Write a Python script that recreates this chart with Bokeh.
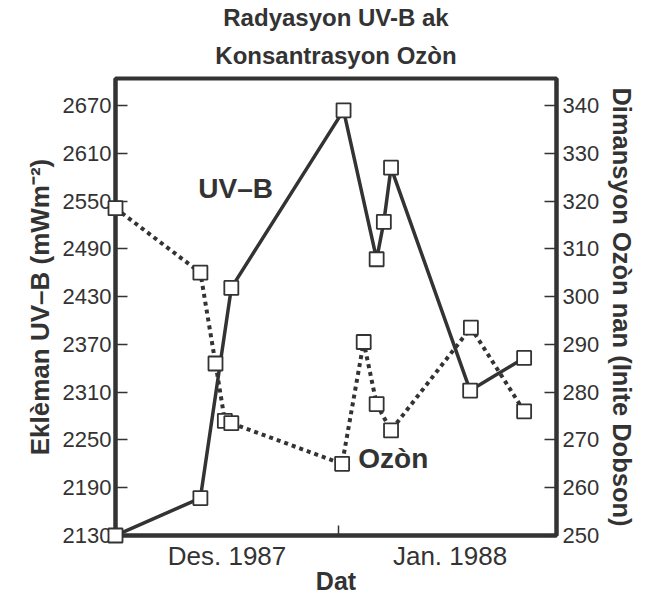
from bokeh.plotting import figure
from bokeh.models import LinearAxis, Range1d, FixedTicker, Label, Title, ColumnDataSource
from bokeh.embed import file_html
from bokeh.resources import INLINE

# ---- data (days since 1 Dec 1987) ----
uvb_day = [0, 11.8, 16.1, 31.7, 36.3, 37.3, 38.3, 49.3, 56.8]
uvb_val = [2130, 2177, 2441, 2664, 2477, 2524, 2592, 2312, 2353]

oz_day = [0, 11.8, 13.9, 15.2, 16.1, 31.5, 34.5, 36.3, 38.3, 49.4, 56.8]
oz_val = [318.5, 305, 286, 274, 273.5, 265, 290.5, 277.5, 272, 293.5, 276]

uvb_ticks = [2130, 2190, 2250, 2310, 2370, 2430, 2490, 2550, 2610, 2670]
oz_ticks = [250, 260, 270, 280, 290, 300, 310, 320, 330, 340]
month_centers = [15.5, 46.5]
month_labels = ["Des. 1987", "Jan. 1988"]
month_boundary = [31]

INK = "#333333"
FONT = "Liberation Sans"

p = figure(width=651, height=598, output_backend="svg", toolbar_location=None,
           x_range=Range1d(0, 61.3), y_range=Range1d(2130, 2704),
           x_axis_type=None, y_axis_type=None,
           min_border_left=115, min_border_right=95, min_border_top=78, min_border_bottom=63)
p.extra_y_ranges = {"oz": Range1d(250, 345.65)}
p.outline_line_color = INK
p.outline_line_width = 4
p.background_fill_color = "white"
p.border_fill_color = "white"

def style_axis(ax, size, label, label_size, label_standoff):
    ax.axis_line_color = INK
    ax.axis_line_width = 4
    ax.major_tick_line_color = INK
    ax.major_tick_line_width = 1.5
    ax.minor_tick_line_color = INK
    ax.minor_tick_line_width = 1.5
    ax.major_label_text_font = FONT
    ax.major_label_text_font_size = size
    ax.major_label_text_color = INK
    ax.axis_label = label
    ax.axis_label_text_font = FONT
    ax.axis_label_text_font_size = label_size
    ax.axis_label_text_font_style = "bold"
    ax.axis_label_text_color = INK
    ax.axis_label_standoff = label_standoff

left = LinearAxis(ticker=FixedTicker(ticks=uvb_ticks))
style_axis(left, "22px", "Eklèman UV–B (mWm⁻²)", "26px", 5)
left.major_tick_in = 12
left.major_tick_out = 0
left.minor_tick_in = 0
left.minor_tick_out = 0
left.major_label_standoff = 4
p.add_layout(left, "left")

right = LinearAxis(y_range_name="oz", ticker=FixedTicker(ticks=oz_ticks))
style_axis(right, "22px", "Dimansyon Ozòn nan (Inite Dobson)", "25.5px", 6)
right.major_tick_in = 12
right.major_tick_out = 0
right.minor_tick_in = 0
right.minor_tick_out = 0
right.major_label_standoff = 6
p.add_layout(right, "right")

bottom = LinearAxis(ticker=FixedTicker(ticks=month_centers, minor_ticks=month_boundary),
                    major_label_overrides=dict(zip(month_centers, month_labels)))
style_axis(bottom, "26px", "Dat", "25px", -7)
bottom.major_tick_in = 0
bottom.major_tick_out = 0
bottom.minor_tick_in = 10
bottom.minor_tick_out = 0
bottom.major_label_standoff = 5
p.add_layout(bottom, "below")

# titles (second line added first so it sits next to the frame)
for line, so in [("Konsantrasyon Ozòn", 19), ("Radyasyon UV-B ak", 0)]:
    t = Title(text=line, align="center", text_font=FONT, text_font_size="24px",
              text_font_style="bold", text_color=INK, standoff=so)
    p.add_layout(t, "above")

uvb_src = ColumnDataSource(dict(x=uvb_day, y=uvb_val))
oz_src = ColumnDataSource(dict(x=oz_day, y=oz_val))

p.line("x", "y", source=uvb_src, line_color=INK, line_width=3.5)
p.line("x", "y", source=oz_src, y_range_name="oz", line_color=INK, line_width=4,
       line_dash="4 4")
p.scatter("x", "y", source=oz_src, y_range_name="oz", marker="square", size=14,
          fill_color="white", line_color=INK, line_width=1.8, level="overlay")
p.scatter("x", "y", source=uvb_src, marker="square", size=14,
          fill_color="white", line_color=INK, line_width=1.8, level="overlay")

# series labels
p.add_layout(Label(x=11.5, y=2566, text="UV–B", text_font=FONT, text_font_size="28px",
                   text_font_style="bold", text_color=INK, text_baseline="alphabetic"))
p.add_layout(Label(x=33.75, y=266.2, y_range_name="oz", text="Ozòn", text_font=FONT,
                   text_font_size="28px", text_font_style="bold", text_color=INK,
                   text_baseline="alphabetic"))

open("out.html", "w").write(file_html(p, INLINE))
